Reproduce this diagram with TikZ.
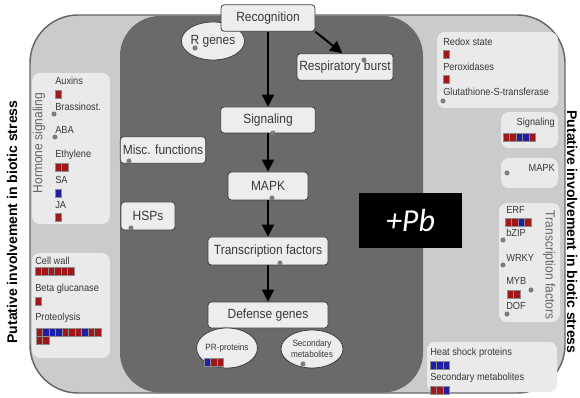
\documentclass[tikz,border=0pt]{standalone}
\usepackage{fontspec}
\setmainfont{Liberation Sans}
\newfontfamily\narrow{Liberation Sans}[FakeStretch=0.9]
\newfontfamily\pbfont{Carlito}
\usetikzlibrary{arrows.meta,shapes.geometric}
\definecolor{outerbg}{HTML}{CBCBCB}
\definecolor{innerbg}{HTML}{6A6A6A}
\definecolor{panelbg}{HTML}{EAEAEA}
\definecolor{boxbg}{HTML}{EDEDED}
\definecolor{txt}{HTML}{383838}
\definecolor{ur}{HTML}{A3161A}
\definecolor{db}{HTML}{1E1EA6}
\definecolor{dotc}{HTML}{7C7C7C}
% a row of coloured cells starting at (x,y)
\newcommand{\cells}[3]{%
  \foreach \c [count=\i from 0] in {#3}
    \draw[cell,fill=\c] (#1+6.5*\i,#2) rectangle ++(6.5,8);}
\begin{document}
\begin{tikzpicture}[x=0.75pt,y=-0.75pt,
    box/.style={draw=black!75,fill=boxbg,rounded corners=2.5pt,line width=0.6pt,
      text=txt,inner sep=0pt,font=\narrow\fontsize{10}{12}\selectfont},
    blob/.style={ellipse,draw=black!75,fill=boxbg,line width=0.6pt,text=txt,
      inner sep=0pt,align=center},
    panel/.style={fill=panelbg,rounded corners=6pt},
    lbl/.style={anchor=west,text=txt,inner sep=0pt,font=\narrow\fontsize{7.7}{9}\selectfont},
    paneltitle/.style={text=black!60,inner sep=0pt,font=\narrow\fontsize{10}{12}\selectfont},
    sidetext/.style={inner sep=0pt,font=\bfseries\fontsize{10.5}{12}\selectfont},
    cell/.style={draw=black!45,line width=0.3pt},
    flow/.style={line width=1.5pt,-{Triangle[length=9pt,width=9pt]}}]
  \useasboundingbox (0,0) rectangle (580,398);
  \fill[outerbg,rounded corners=36pt] (30,15) rectangle (565,393);
  \fill[innerbg,rounded corners=30pt] (120,16) rectangle (423,392.5);
  \draw[black!60,line width=1.1pt,rounded corners=36pt] (30,15) rectangle (565,393);
  \foreach \a/\b/\c/\d in {32/73/110/224, 32/253/110/358, 437/32/558/108,
      501/112/558/148, 501/158/558/188, 499/203/560/322, 427/342/557/392}
    \fill[panel] (\a,\b) rectangle (\c,\d);

  \node[sidetext,rotate=90] (lside) at (12,222) {Putative involvement in biotic stress};
  \node[sidetext,rotate=-90] (rside) at (572,232) {Putative involvement in biotic stress};
  \node[paneltitle,rotate=90] (hormt) at (39,143) {Hormone signaling};
  \node[paneltitle,rotate=-90] (tft) at (549,265) {Transcription factors};

  \node[blob,minimum width=42pt,minimum height=28.5pt,font=\narrow\fontsize{10}{12}\selectfont]
    (rgen) at (213,41) {R genes};
  \node[box,minimum width=70.5pt,minimum height=20pt] (rec) at (268,18) {Recognition};
  \node[box,minimum width=72pt,minimum height=20pt] (resp) at (345,67) {Respiratory burst};
  \node[box,minimum width=71pt,minimum height=19.5pt] (sig) at (268,120) {Signaling};
  \node[box,minimum width=60pt,minimum height=21pt] (mapk) at (268,186) {MAPK};
  \node[box,minimum width=90pt,minimum height=21pt] (tf) at (268,251) {Transcription factors};
  \node[box,minimum width=90pt,minimum height=19.5pt] (def) at (268,315) {Defense genes};
  \node[box,minimum width=64pt,minimum height=20pt] (misc) at (163,150) {Misc. functions};
  \node[box,minimum width=40.5pt,minimum height=21pt] (hsp) at (148,216) {HSPs};
  \node[blob,minimum width=45pt,minimum height=30pt,font=\narrow\fontsize{6.8}{8}\selectfont]
    (pr) at (227,348) {PR-proteins};
  \node[blob,minimum width=46.5pt,minimum height=28.5pt,font=\narrow\fontsize{6.8}{8}\selectfont]
    (sec) at (312,349) {Secondary\\metabolites};

  \draw[flow] (rec) -- (sig);
  \draw[flow] (sig) -- (mapk);
  \draw[flow] (mapk) -- (tf);
  \draw[flow] (tf) -- (def);
  \draw[flow] (rec.south east) -- ([xshift=-2pt]resp.north);

  \node[fill=black,minimum width=77pt,minimum height=41pt,text=white,
    font=\pbfont\itshape\fontsize{24}{28}\selectfont] (pb) at (410.5,220.5) {+Pb};

  \foreach \t/\y in {Auxins/81, Brassinost./107, ABA/130, Ethylene/155, SA/180, JA/205}
    \node[lbl] (hs-\y) at (55,\y) {\t};
  \foreach \t/\y in {Cell wall/261, Beta glucanase/289, Proteolysis/318}
    \node[lbl] (cw-\y) at (35,\y) {\t};
  \foreach \t/\y in {Redox state/42, Peroxidases/67, Glutathione-S-transferase/92}
    \node[lbl] (rx-\y) at (443,\y) {\t};
  \foreach \t/\y in {ERF/210, bZIP/233, WRKY/258, MYB/281, DOF/306}
    \node[lbl] (tr-\y) at (506,\y) {\t};
  \foreach \t/\y in {Heat shock proteins/353, Secondary metabolites/378}
    \node[lbl] (hp-\y) at (430,\y) {\t};
  \node[lbl,anchor=east] (sigl) at (555,123) {Signaling};
  \node[lbl,anchor=east] (mapkl) at (555,168) {MAPK};

  \cells{55}{90}{ur}
  \cells{55}{163}{ur,ur}
  \cells{55}{189}{db}
  \cells{55}{213}{ur}
  \cells{35}{267}{ur,ur,ur,ur,ur,ur}
  \cells{35}{297}{ur}
  \cells{36}{328}{ur,db,db,db,ur,ur,ur,db,ur,ur}
  \cells{36}{336}{ur,ur}
  \cells{443}{50}{ur}
  \cells{443}{75}{ur}
  \cells{503}{133}{ur,ur,db,db,ur}
  \cells{505}{218}{ur,ur,db,ur}
  \cells{507}{290}{ur,ur}
  \cells{430}{361}{db,db,db}
  \cells{430}{386}{ur,ur,db}
  \cells{204}{358}{db,ur,ur}

  \foreach \p in {(195,48),(364,60),(273,133),(272,198),(280,263),(129,161),(131,228),
      (303,364),(54,114),(55,137),(443,101),(507,173),(503,240),(503,265),(531,290),(507,314)}
    \fill[dotc] \p circle (1.9pt);
\end{tikzpicture}
\end{document}
